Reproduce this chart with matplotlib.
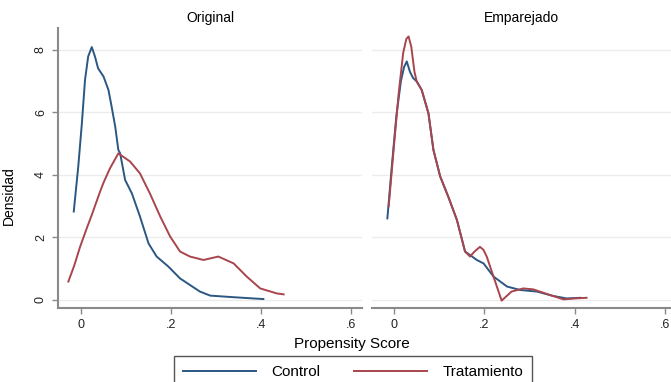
import matplotlib
matplotlib.use('Agg')
import matplotlib.pyplot as plt

plt.rcParams['font.family'] = ['Liberation Sans', 'DejaVu Sans']

# densidades
orig_ctrl_x = [-0.016, -0.006, 0.002, 0.009, 0.016, 0.024, 0.031, 0.038, 0.05, 0.061, 0.068, 0.076,
               0.083, 0.087, 0.098, 0.113, 0.131, 0.15, 0.168, 0.194, 0.22, 0.242, 0.264, 0.287,
               0.338, 0.405]
orig_ctrl_y = [2.83, 4.27, 5.65, 7.04, 7.79, 8.09, 7.79, 7.41, 7.15, 6.72, 6.19, 5.55,
               4.8, 4.69, 3.84, 3.41, 2.67, 1.81, 1.39, 1.07, 0.69, 0.48, 0.27, 0.14,
               0.09, 0.03]
orig_trat_x = [-0.028, -0.015, -0.002, 0.013, 0.024, 0.042, 0.05, 0.064, 0.083, 0.109, 0.131,
               0.153, 0.176, 0.198, 0.22, 0.242, 0.272, 0.305, 0.339, 0.368, 0.398, 0.435, 0.45]
orig_trat_y = [0.59, 1.1, 1.7, 2.3, 2.72, 3.45, 3.75, 4.2, 4.69, 4.43, 4.05,
               3.41, 2.67, 2.03, 1.55, 1.39, 1.28, 1.39, 1.17, 0.75, 0.37, 0.21, 0.18]

emp_ctrl_x = [-0.015, -0.005, 0.005, 0.015, 0.022, 0.028, 0.035, 0.042, 0.05, 0.061, 0.076, 0.087,
              0.102, 0.12, 0.139, 0.157, 0.168, 0.183, 0.198, 0.22, 0.25, 0.279, 0.316, 0.352,
              0.382, 0.412]
emp_ctrl_y = [2.61, 4.3, 5.9, 7.0, 7.45, 7.63, 7.3, 7.1, 6.99, 6.72, 5.97, 4.8,
              3.95, 3.3, 2.56, 1.55, 1.44, 1.28, 1.17, 0.75, 0.43, 0.32, 0.27, 0.13,
              0.05, 0.07]
emp_trat_x = [-0.012, 0.0, 0.01, 0.02, 0.027, 0.032, 0.038, 0.045, 0.05, 0.061, 0.076, 0.087,
              0.102, 0.12, 0.139, 0.157, 0.168, 0.178, 0.19, 0.198, 0.205, 0.22, 0.238, 0.26,
              0.286, 0.308, 0.345, 0.375, 0.4, 0.426]
emp_trat_y = [3.0, 5.0, 6.6, 7.9, 8.35, 8.43, 8.1, 7.3, 6.99, 6.72, 5.97, 4.8,
              3.95, 3.3, 2.56, 1.55, 1.39, 1.55, 1.7, 1.6, 1.39, 0.75, -0.02, 0.27,
              0.37, 0.34, 0.16, 0.02, 0.05, 0.07]

paneles = ['Original', 'Emparejado']
series = ['Control', 'Tratamiento']
colores = ['#2b5783', '#a8454d']
xticks = [0, 0.2, 0.4, 0.6]
xtick_labels = ['0', '.2', '.4', '.6']
yticks = [0, 2, 4, 6, 8]

W, H = 671, 382
fig = plt.figure(figsize=(W / 100, H / 100), dpi=100)
ax1 = fig.add_axes([58 / W, 1 - 308 / H, (362 - 58) / W, (308 - 28) / H])
ax2 = fig.add_axes([372 / W, 1 - 308 / H, (671 - 372) / W, (308 - 28) / H])

datos = [[(orig_ctrl_x, orig_ctrl_y), (orig_trat_x, orig_trat_y)],
         [(emp_ctrl_x, emp_ctrl_y), (emp_trat_x, emp_trat_y)]]

lineas = []
for ax, titulo, d, xlim in zip([ax1, ax2], paneles, datos, [(-0.051, 0.624), (-0.049, 0.613)]):
    for yy in yticks:
        ax.axhline(yy, color='#ececec', lw=1, zorder=0)
    for (x, y), c, nombre in zip(d, colores, series):
        l, = ax.plot(x, y, color=c, lw=1.4, label=nombre)
        if ax is ax1:
            lineas.append(l)
    ax.set_xlim(*xlim)
    ax.set_ylim(-0.256, 8.7)
    ax.set_xticks(xticks)
    ax.set_xticklabels(xtick_labels, fontsize=9)
    ax.set_title(titulo, fontsize=10, pad=4)
    for s in ['top', 'right']:
        ax.spines[s].set_visible(False)
    ax.spines['bottom'].set_color('#8a8a8a')
    ax.spines['bottom'].set_linewidth(1.5)
    ax.tick_params(axis='x', colors='#8a8a8a', labelcolor='#222222', length=4, width=1, pad=4)

ax1.spines['left'].set_color('#8a8a8a')
ax1.spines['left'].set_linewidth(1.5)
ax1.set_yticks(yticks)
ax1.set_yticklabels([str(v) for v in yticks], fontsize=9, rotation=90, va='center')
ax1.tick_params(axis='y', colors='#8a8a8a', labelcolor='#222222', length=4, width=1, pad=4)
ax1.set_ylabel('Densidad', fontsize=10)
ax1.yaxis.set_label_coords(-0.14, 0.4)

ax2.spines['left'].set_visible(False)
ax2.set_yticks([])

fig.text(352 / W, 1 - 344 / H, 'Propensity Score', ha='center', va='center', fontsize=11)

fig.legend(lineas, series, loc='upper center', bbox_to_anchor=(353 / W, 1 - 356 / H),
           ncol=2, fontsize=11, handlelength=4.8, handletextpad=1.0, columnspacing=2.2,
           fancybox=False, edgecolor='#555555', framealpha=1, borderpad=0.6, borderaxespad=0)

fig.savefig('out.png', dpi=100)
